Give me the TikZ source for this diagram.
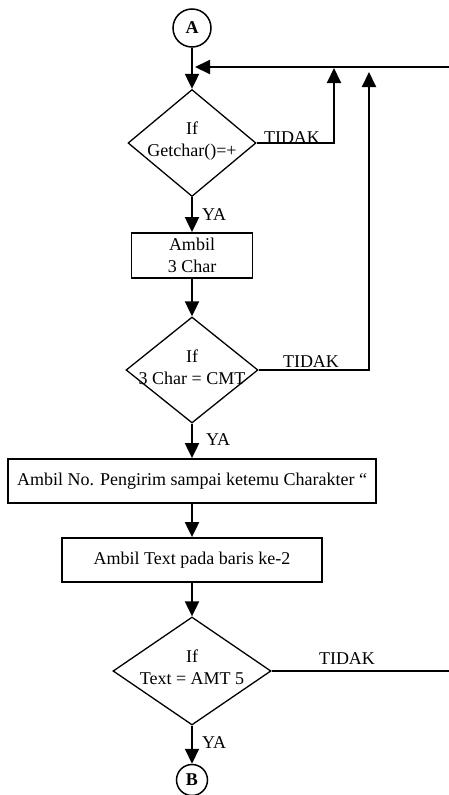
\documentclass[tikz,border=0pt]{standalone}
\usepackage{fontspec}
\setmainfont{Liberation Serif}
\usetikzlibrary{arrows}
\usetikzlibrary{arrows.meta}
\usetikzlibrary{shapes.geometric}

\begin{document}
\begin{tikzpicture}[x=1pt,y=-1pt,font=\fontsize{18}{22}\selectfont]
    \tikzstyle{edge}=[draw=black,line width=2pt,-]
    \tikzstyle{flow}=[edge,-{Triangle[width=14pt,length=15pt]}]
    \tikzstyle{conn}=[circle,draw=black,line width=1.5pt,inner sep=0pt,font=\fontsize{18}{22}\selectfont\bfseries]
    \tikzstyle{proc}=[rectangle,draw=black,line width=1.8pt,inner sep=0pt,align=center]
    \tikzstyle{decision}=[diamond,draw=black,line width=1.3pt,inner sep=0pt]
    \tikzstyle{word}=[inner sep=0pt,anchor=base]
    \tikzstyle{yes}=[inner sep=0pt,anchor=base west]

    \def\X{192}
    \def\R{449}

    \useasboundingbox (0,0) rectangle (449,795);

    \node[conn,minimum size=38pt] (A) at (\X,28) {A};
    \node[decision,minimum width=128pt,minimum height=107pt] (d1) at (\X,143) {};
    \node[align=center] (d1txt) at (\X,141) {If\\Getchar()=+};
    \node[proc,minimum width=121pt,minimum height=45pt] (b1) at (\X,255.5) {Ambil\\3 Char};
    \node[decision,minimum width=132pt,minimum height=106pt] (d2) at (\X,370) {};
    \node[align=center] (d2txt) at (\X,367) {If\\3 Char = CMT};
    \node[proc,minimum width=368pt,minimum height=44pt] (b2) at (\X,481) {Ambil No. Pengirim sampai ketemu Charakter “};
    \node[proc,minimum width=260pt,minimum height=44pt] (b3) at (\X,560) {Ambil Text pada baris ke-2};
    \node[decision,minimum width=158pt,minimum height=108pt] (d3) at (\X,671) {};
    \node[align=center] (d3txt) at (\X,667) {If\\Text = AMT 5};
    \node[conn,minimum size=31pt] (B) at (\X,780) {B};

    \coordinate (in)  at (\R,67);
    \coordinate (j0)  at (\X,67);
    \coordinate (j1)  at (334,67);
    \coordinate (j2)  at (369,67);
    \coordinate (out) at (\R,671);

    \path[flow] (A) -- (d1);
    \path[flow] (d1) -- (b1);
    \path[flow] (b1) -- (d2);
    \path[flow] (d2) -- (b2);
    \path[flow] (b2) -- (b3);
    \path[flow] (b3) -- (d3);
    \path[flow] (d3) -- (B);

    \path[flow,shorten >=3pt] (in) -- (j0);
    \path[flow,shorten >=1pt] (d1.east) -| (j1);
    \path[flow,shorten >=5pt] (d2.east) -| (j2);
    \path[edge] (d3.east) -- (out);

    \node[word] (n1) at (292,143) {TIDAK};
    \node[word] (n2) at (311,367) {TIDAK};
    \node[word] (n3) at (347,664) {TIDAK};

    \node[yes] (y1) at (202,220) {YA};
    \node[yes] (y2) at (206,445) {YA};
    \node[yes] (y3) at (202,748) {YA};
\end{tikzpicture}
\end{document}
